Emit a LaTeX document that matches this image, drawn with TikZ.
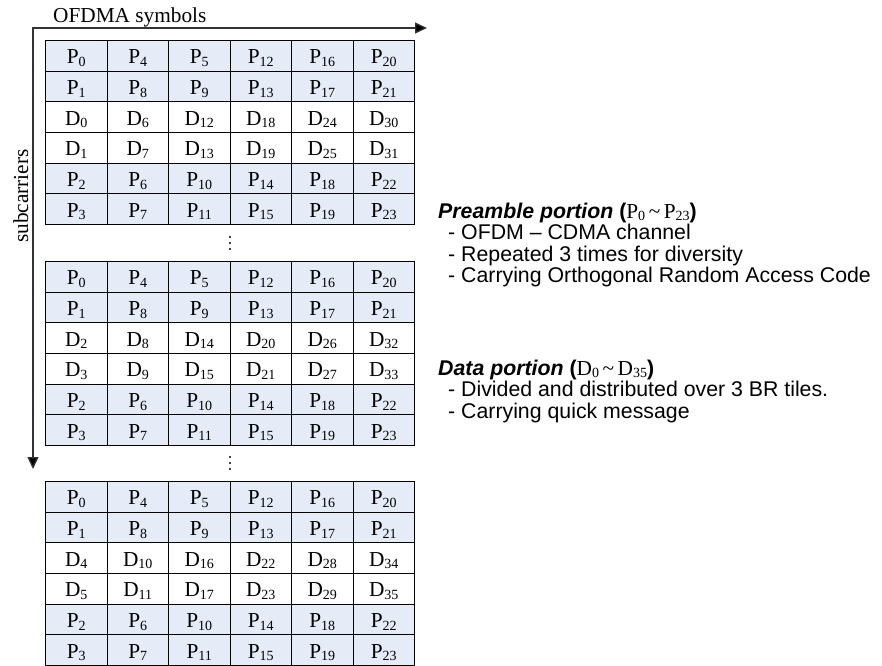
\documentclass[tikz,border=0pt]{standalone}
\usepackage{fontspec}
\setmainfont{Liberation Serif}
\newfontfamily\arialf{Liberation Sans}
\usetikzlibrary{arrows.meta}
\definecolor{pfill}{RGB}{230,236,247}
\newcommand\sbx[1]{\raisebox{-2.5pt}{\fontsize{14}{14}\selectfont #1}}
\begin{document}
\begin{tikzpicture}[x=1pt,y=-1pt,
  font=\fontsize{21.3}{21.3}\selectfont,
  cellbox/.style={draw=black, line width=1pt, minimum width=61.5pt,
    minimum height=30.67pt, inner sep=0pt, anchor=north west,
    text height=17pt, text depth=1pt},
  pcell/.style={cellbox, fill=pfill},
  dcell/.style={cellbox, fill=white},
  axis/.style={draw=black!80, line width=1.3pt,
    {Triangle[length=12pt,width=11pt,fill=black]}-{Triangle[length=12pt,width=11pt,fill=black]}},
  desc/.style={font=\arialf\fontsize{21.3}{21.3}\selectfont, anchor=base west, inner sep=0pt},
  lbl/.style={anchor=base west, inner sep=0pt},
  vdot/.style={fill=black}]
\useasboundingbox (0,0) rectangle (882,665);

% axes
\coordinate (origin) at (33,28);
\coordinate (xend) at (427,28);
\coordinate (yend) at (33,469);
\draw[axis] (yend) -- (origin) -- (xend);
\node[lbl] (xlabel) at (53,22) {OFDMA symbols};
\node[rotate=90, anchor=base, inner sep=0pt] (ylabel) at (28,196) {subcarriers};

% tables
\foreach \t/\ty in {0/40,1/261,2/481}{
  \foreach \c/\a/\b/\e/\f in {0/0/1/2/3, 1/4/8/6/7, 2/5/9/10/11, 3/12/13/14/15, 4/16/17/18/19, 5/20/21/22/23}{
    \pgfmathtruncatemacro\da{2*\t+6*\c}
    \pgfmathtruncatemacro\db{2*\t+1+6*\c}
    \node[pcell] (t\t r1c\c) at ({45+61.5*\c},{\ty}) {P\sbx{\a}};
    \node[pcell] (t\t r2c\c) at ({45+61.5*\c},{\ty+30.67}) {P\sbx{\b}};
    \node[dcell] (t\t r3c\c) at ({45+61.5*\c},{\ty+2*30.67}) {D\sbx{\da}};
    \node[dcell] (t\t r4c\c) at ({45+61.5*\c},{\ty+3*30.67}) {D\sbx{\db}};
    \node[pcell] (t\t r5c\c) at ({45+61.5*\c},{\ty+4*30.67}) {P\sbx{\e}};
    \node[pcell] (t\t r6c\c) at ({45+61.5*\c},{\ty+5*30.67}) {P\sbx{\f}};
  }
}

% vertical dots
\foreach \yy in {237,243,249,457,463,469}{
  \fill[vdot] (230,\yy) circle (1.2pt);
}

% description
\node[desc] (pre) at (438,218) {\textbf{\textit{Preamble portion}} \textbf{(}{\rmfamily P\sbx{0}\,\textasciitilde\,P\sbx{23}}\textbf{)}};
\node[desc] (pre1) at (448,239.5) {- OFDM – CDMA channel};
\node[desc] (pre2) at (448,261) {- Repeated 3 times for diversity};
\node[desc] (pre3) at (448,282.5) {- Carrying Orthogonal Random Access Code};
\node[desc] (dat) at (438,375) {\textbf{\textit{Data portion}} \textbf{(}{\rmfamily D\sbx{0}\,\textasciitilde\,D\sbx{35}}\textbf{)}};
\node[desc] (dat1) at (448,396.5) {- Divided and distributed over 3 BR tiles.};
\node[desc] (dat2) at (448,418) {- Carrying quick message};
\end{tikzpicture}
\end{document}
